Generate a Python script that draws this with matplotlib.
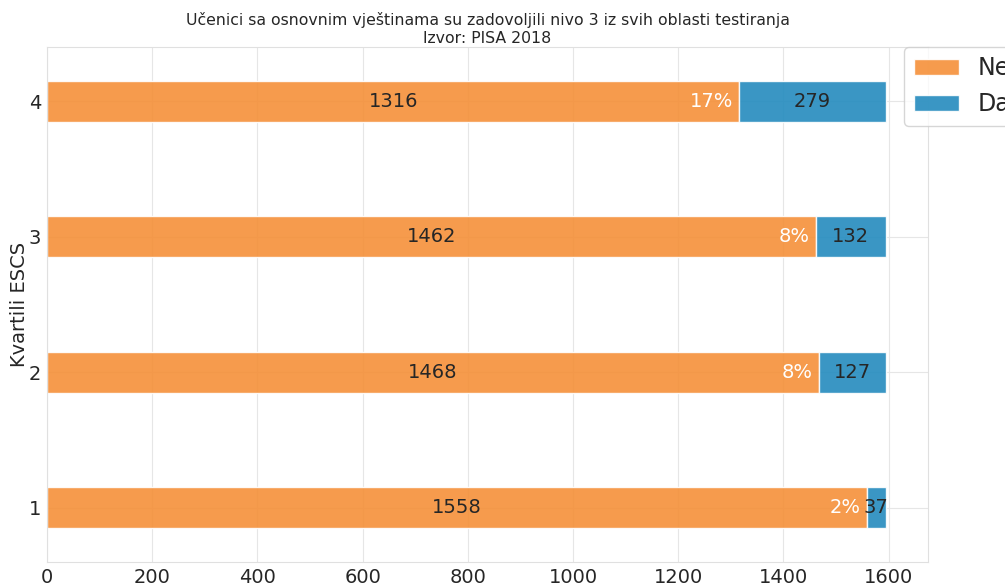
import numpy as np
import matplotlib
matplotlib.use('Agg')
import matplotlib.pyplot as plt
import seaborn as sns

sns.set_style('whitegrid', {'grid.color': '#e6e6e6', 'axes.edgecolor': '#e0e0e0'})
plt.rcParams['font.family'] = ['DejaVu Sans']

kvartili = ['1', '2', '3', '4']
ne = [1558, 1468, 1462, 1316]
da = [37, 127, 132, 279]

c_ne = '#f59039'
c_da = '#248bbe'

fig = plt.figure(figsize=(10.05, 5.83), dpi=100)
ax = fig.add_axes([47 / 1005, 1 - 562 / 583, 881 / 1005, 515 / 583])

y = np.arange(1, len(kvartili) + 1)
ne_arr = np.array(ne)
da_arr = np.array(da)
ax.barh(y, ne_arr, height=0.3, color=c_ne, alpha=0.9, edgecolor='white', linewidth=1, label='Ne')
ax.barh(y, da_arr, left=ne_arr, height=0.3, color=c_da, alpha=0.9, edgecolor='white', linewidth=1, label='Da')

for i in range(len(y)):
    ax.text(ne_arr[i] / 2, y[i], str(ne_arr[i]), ha='center', va='center',
            fontsize=14, color='#262626')
    ax.text(ne_arr[i] + da_arr[i] / 2, y[i], str(da_arr[i]), ha='center', va='center',
            fontsize=14, color='#262626')
    pct = int(round(100 * da_arr[i] / (ne_arr[i] + da_arr[i])))
    ax.text(ne_arr[i] - 12, y[i], '{0}%'.format(pct), ha='right', va='center',
            fontsize=14, color='white')

ax.set_yticks(y)
ax.set_yticklabels(kvartili)
ax.set_ylim(0.6, 4.4)
ax.set_xlim(0, 1.05 * max(ne_arr + da_arr))
ax.set_xticks(np.arange(0, 1601, 200))
ax.tick_params(labelsize=14, pad=0.7)
ax.set_ylabel('Kvartili ESCS', fontsize=14, labelpad=0)
ax.set_title('Učenici sa osnovnim vještinama su zadovoljili nivo 3 iz svih oblasti testiranja\nIzvor: PISA 2018',
             fontsize=11.3, pad=3)

ax.legend(loc='upper left', bbox_to_anchor=(0.973, 1.0), borderaxespad=0,
          fontsize=17, handlelength=1.9, frameon=True)

fig.savefig('out.png', dpi=100)
